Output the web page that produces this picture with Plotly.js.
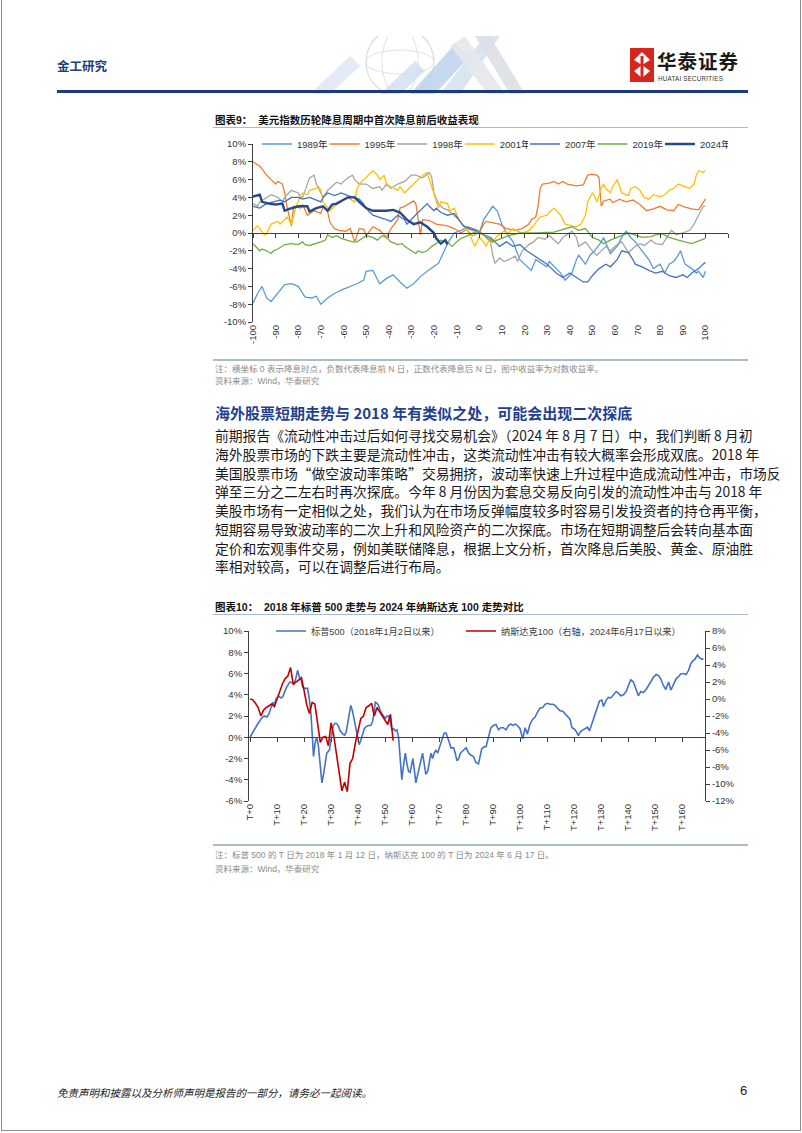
<!DOCTYPE html>
<html><head><meta charset="utf-8">
<script src="https://cdn.plot.ly/plotly-3.0.1.min.js"></script>
<style>
body{margin:0;width:802px;height:1133px;position:relative;background:#fff;overflow:hidden;font-family:"Liberation Sans","Noto Sans CJK SC",sans-serif;}
.a{position:absolute;white-space:nowrap;}
.cn{font-family:"Liberation Sans","Noto Sans CJK SC",sans-serif;}
.ttl{font-size:10.5px;font-weight:bold;color:#111;}
.rule{position:absolute;height:1px;background:#a9bccf;}
.note{font-size:8.5px;color:#8a8a8a;}
.para{position:absolute;left:215px;width:530px;font-size:13.8px;color:#1a1a1a;text-align:justify;text-align-last:justify;white-space:nowrap;line-height:18px;font-family:"Noto Sans CJK SC","Liberation Sans",sans-serif;}
</style></head><body>
<div class="a" style="left:1px;top:-2px;width:798px;height:1131px;border:1px solid #8c8c8c;"></div>

<svg class="a" style="left:290px;top:36px" width="260" height="58">
  <circle cx="110" cy="26" r="34" fill="none" stroke="#d9dee5" stroke-width="1.2"/>
  <ellipse cx="110" cy="26" rx="18" ry="34" fill="none" stroke="#dfe4ea" stroke-width="1"/>
  <ellipse cx="110" cy="26" rx="34" ry="12" fill="none" stroke="#dfe4ea" stroke-width="1"/>
  <polygon points="20,58 60,20 70,30 40,58" fill="#dbe6f2" opacity="0.8"/>
  <polygon points="120,58 165,8 180,20 145,58" fill="#b9d0ea" opacity="0.8"/>
  <polygon points="150,58 195,0 210,0 170,58" fill="#d0dff0" opacity="0.8"/>
  <polygon points="185,0 200,0 235,58 220,58" fill="#dcdfe4" opacity="0.9"/>
  <polygon points="160,10 175,0 215,58 198,58" fill="#e4e7eb" opacity="0.9"/>
  <polygon points="90,58 125,25 135,35 110,58" fill="#c9daee" opacity="0.7"/>
</svg>
<div class="a" style="left:57px;top:56px;font-size:12.5px;font-weight:bold;color:#1f3d7a;font-family:'Noto Sans CJK SC';">金工研究</div>
<svg class="a" style="left:630px;top:48px" width="24" height="34">
  <rect x="0" y="0" width="24" height="34" fill="#d7261e"/>
  <polygon points="12,4 20,12 12,17 4,12" fill="#fff"/>
  <polygon points="12,17 20,23 12,30 4,23" fill="#fff"/>
  <rect x="10.5" y="8" width="3" height="22" fill="#d7261e"/>
</svg>
<div class="a" style="left:657px;top:51px;font-size:19.5px;line-height:20px;font-weight:bold;color:#1a1a1a;letter-spacing:1px;font-family:'Noto Sans CJK SC';">华泰证券</div>
<div class="a" style="left:658px;top:75px;font-size:6.3px;line-height:7px;color:#333;letter-spacing:0.2px;">HUATAI SECURITIES</div>
<div class="a" style="left:57px;top:90px;width:691px;height:3px;background:#1d3b7b;"></div>

<div class="a ttl cn" style="left:215px;top:112px;">图表9：&nbsp;&nbsp;美元指数历轮降息周期中首次降息前后收益表现</div>
<div class="rule" style="left:213px;top:127px;width:535px;"></div>
<div id="c9" class="a" style="left:200px;top:110px;width:545px;height:250px;"></div>
<div class="rule" style="left:213px;top:359px;width:535px;height:1.5px;"></div>
<div class="a note cn" style="left:215px;top:362px;">注：横坐标 0 表示降息时点，负数代表降息前 N 日，正数代表降息后 N 日，图中收益率为对数收益率。</div>
<div class="a note cn" style="left:215px;top:374px;">资料来源：Wind，华泰研究</div>

<div class="a" style="left:215px;top:402px;font-size:15px;font-weight:bold;color:#1f3f8f;font-family:'Noto Sans CJK SC';">海外股票短期走势与 2018 年有类似之处，可能会出现二次探底</div>
<div class="para" style="top:426px;">前期报告《流动性冲击过后如何寻找交易机会》（2024 年 8 月 7 日）中，我们判断 8 月初</div>
<div class="para" style="top:445px;">海外股票市场的下跌主要是流动性冲击，这类流动性冲击有较大概率会形成双底。2018 年</div>
<div class="para" style="top:464px;">美国股票市场“做空波动率策略”交易拥挤，波动率快速上升过程中造成流动性冲击，市场反</div>
<div class="para" style="top:482px;">弹至三分之二左右时再次探底。今年 8 月份因为套息交易反向引发的流动性冲击与 2018 年</div>
<div class="para" style="top:501px;">美股市场有一定相似之处，我们认为在市场反弹幅度较多时容易引发投资者的持仓再平衡，</div>
<div class="para" style="top:520px;">短期容易导致波动率的二次上升和风险资产的二次探底。市场在短期调整后会转向基本面</div>
<div class="para" style="top:539px;">定价和宏观事件交易，例如美联储降息，根据上文分析，首次降息后美股、黄金、原油胜</div>
<div class="para" style="top:557px;text-align-last:left;">率相对较高，可以在调整后进行布局。</div>

<div class="a ttl cn" style="left:215px;top:599px;">图表10：&nbsp;&nbsp;2018 年标普 500 走势与 2024 年纳斯达克 100 走势对比</div>
<div class="rule" style="left:213px;top:614px;width:535px;"></div>
<div id="c10" class="a" style="left:200px;top:600px;width:545px;height:240px;"></div>
<div class="rule" style="left:213px;top:844px;width:535px;height:1.5px;"></div>
<div class="a note cn" style="left:215px;top:848px;">注：标普 500 的 T 日为 2018 年 1 月 12 日，纳斯达克 100 的 T 日为 2024 年 6 月 17 日。</div>
<div class="a note cn" style="left:215px;top:862px;">资料来源：Wind，华泰研究</div>

<div class="a" style="left:57px;top:1085px;font-size:10.5px;font-style:italic;color:#222;font-family:'Noto Sans CJK SC';">免责声明和披露以及分析师声明是报告的一部分，请务必一起阅读。</div>
<div class="a" style="left:740px;top:1083px;font-size:13px;color:#222;">6</div>

<script>
// ---------- Chart 9 data: [day relative to first cut, log return %] ----------
const years9 = ["1989年","1995年","1998年","2001年","2007年","2019年","2024年"];
const r1989 = [[-100,-7.9],[-98,-6.8],[-96,-6.0],[-94,-7.3],[-92,-7.7],[-89,-6.8],[-86,-5.8],[-83,-5.7],[-80,-6.0],[-77,-7.2],[-74,-7.3],[-72,-7.1],[-70,-8.0],[-67,-7.3],[-64,-6.8],[-60,-6.3],[-57,-6.0],[-54,-5.7],[-51,-5.3],[-50,-4.3],[-47,-4.2],[-44,-5.7],[-41,-5.1],[-38,-4.7],[-35,-5.5],[-32,-6.2],[-29,-5.7],[-26,-4.9],[-23,-4.3],[-20,-3.8],[-18,-3.4],[-16,-2.3],[-14,-1.2],[-11,0.0],[-8,0.3],[-5,0.7],[-1,0.3],[0,0.0],[2,1.5],[6,3.0],[8,2.5],[10,1.0],[12,0.0],[15,-1.0],[18,-3.0],[20,-3.5],[23,-4.2],[25,-3.0],[30,-3.8],[31,-3.2],[36,-4.5],[38,-5.3],[41,-4.5],[43,-3.0],[44,-2.5],[47,-3.5],[49,-2.5],[51,-2.0],[54,-1.0],[55,-0.5],[58,-2.3],[61,-1.5],[63,-0.5],[65,0.2],[67,-0.5],[69,-1.0],[72,-2.0],[75,-3.0],[77,-4.0],[80,-3.5],[82,-4.5],[84,-3.5],[86,-3.2],[88,-2.5],[89,-2.0],[91,-3.5],[94,-4.0],[96,-4.5],[97,-4.3],[99,-5.0],[100,-4.3]];
const r1995 = [[-100,8.0],[-97,7.5],[-96,7.2],[-94,6.5],[-92,6.0],[-90,5.5],[-89,5.8],[-87,5.5],[-86,4.5],[-85,3.0],[-83,0.8],[-82,3.0],[-79,2.8],[-78,3.2],[-76,2.0],[-73,2.5],[-70,2.2],[-69,3.0],[-67,2.4],[-66,1.2],[-64,0.5],[-62,0.3],[-59,0.2],[-57,0.5],[-55,-1.0],[-53,0.5],[-51,0.4],[-50,-0.3],[-47,0.7],[-44,0.3],[-41,-0.5],[-39,0.5],[-36,1.5],[-35,2.8],[-33,3.0],[-30,3.5],[-29,3.6],[-28,3.3],[-27,1.5],[-26,-0.2],[-25,1.5],[-22,1.4],[-19,1.0],[-17,0.9],[-14,0.8],[-11,0.5],[-8,0.0],[-5,0.5],[-3,0.3],[0,0.0],[2,1.0],[3,1.3],[9,1.0],[12,0.5],[16,0.3],[19,0.5],[22,1.0],[23,1.5],[25,1.8],[26,3.0],[27,5.0],[28,5.5],[31,5.6],[33,5.8],[35,5.5],[37,5.8],[39,5.5],[43,5.3],[46,5.4],[48,6.5],[50,6.6],[52,6.5],[53,6.2],[54,3.0],[55,3.6],[58,3.8],[59,3.4],[62,3.8],[65,3.5],[68,3.7],[71,3.2],[74,2.5],[77,2.7],[78,2.8],[80,3.0],[83,2.6],[86,2.5],[88,3.2],[91,2.9],[94,2.7],[97,2.6],[100,3.8]];
const r1998 = [[-100,3.3],[-98,3.0],[-97,3.5],[-94,4.0],[-92,4.3],[-89,4.0],[-87,3.5],[-86,4.0],[-84,4.5],[-83,4.8],[-80,4.5],[-79,4.0],[-78,4.0],[-76,5.5],[-75,6.2],[-73,6.5],[-72,5.5],[-70,4.5],[-69,4.0],[-67,4.8],[-64,5.5],[-63,5.7],[-61,5.5],[-60,5.8],[-58,6.2],[-56,6.5],[-55,6.0],[-53,5.5],[-50,5.5],[-47,5.0],[-44,5.2],[-43,4.8],[-41,5.5],[-39,5.0],[-36,5.5],[-33,5.8],[-30,6.5],[-28,6.5],[-25,6.2],[-22,6.8],[-21,6.3],[-20,4.5],[-18,3.3],[-16,2.8],[-14,2.6],[-11,2.0],[-9,1.5],[-7,0.8],[-5,0.3],[-3,-0.3],[0,0.0],[2,-0.2],[4,-0.8],[5,-1.0],[6,-2.5],[7,-3.4],[9,-2.8],[11,-3.2],[13,-3.0],[16,-2.6],[17,-3.2],[19,-2.0],[22,-1.3],[24,-1.0],[26,-0.5],[29,-0.7],[31,-0.3],[33,-0.8],[35,-1.2],[37,-0.5],[39,-0.1],[41,0.2],[43,-0.5],[44,-1.5],[47,-1.0],[50,-2.0],[52,-2.5],[54,-2.0],[56,-1.5],[58,-2.0],[61,-1.3],[63,-1.0],[65,-1.8],[66,-2.2],[69,-1.5],[71,-1.2],[73,-1.4],[76,-0.8],[78,-1.2],[81,-1.3],[83,-0.5],[85,0.3],[87,-0.2],[90,0.0],[93,0.3],[95,1.0],[97,2.0],[99,3.0],[100,3.0]];
const r2001 = [[-100,0.3],[-98,0.8],[-97,0.5],[-95,-0.2],[-94,-0.1],[-93,0.5],[-92,1.0],[-89,1.3],[-88,1.0],[-86,1.5],[-85,1.8],[-83,1.0],[-82,2.0],[-81,3.0],[-80,3.5],[-79,4.2],[-78,4.5],[-76,4.3],[-75,4.8],[-72,5.0],[-71,5.2],[-70,4.8],[-69,3.5],[-67,2.8],[-66,2.5],[-64,3.0],[-61,3.5],[-60,3.8],[-58,4.0],[-57,3.8],[-55,3.5],[-54,5.0],[-53,5.5],[-51,6.0],[-49,6.5],[-47,7.0],[-45,6.5],[-44,6.0],[-42,6.5],[-41,5.5],[-39,5.2],[-36,4.8],[-35,5.2],[-33,4.5],[-31,5.0],[-29,5.5],[-27,6.0],[-25,6.5],[-23,6.8],[-22,6.0],[-20,4.5],[-19,3.5],[-18,2.8],[-17,3.5],[-14,3.3],[-13,2.5],[-11,2.8],[-9,1.5],[-7,0.8],[-5,0.2],[-4,-0.3],[-2,-1.5],[0,-0.5],[2,-1.0],[3,-1.5],[5,-0.5],[6,-1.0],[8,-0.3],[11,0.2],[13,0.0],[15,0.5],[17,0.2],[19,0.0],[22,0.3],[24,0.8],[25,1.2],[27,1.8],[30,2.0],[31,2.3],[33,2.8],[36,2.0],[37,1.5],[38,1.0],[41,0.8],[43,0.7],[45,1.0],[47,2.0],[48,3.5],[50,4.5],[51,4.2],[52,3.5],[54,5.0],[55,5.5],[56,5.0],[58,4.5],[59,5.2],[61,6.0],[62,5.3],[63,4.5],[66,4.2],[67,5.0],[69,5.2],[71,4.8],[73,4.0],[75,3.8],[77,4.3],[80,4.1],[82,4.3],[84,4.8],[86,5.0],[88,5.5],[91,5.2],[93,5.0],[95,5.5],[96,6.5],[97,7.0],[99,6.8],[100,7.0]];
const r2007 = [[-100,3.0],[-97,2.8],[-94,3.3],[-91,3.5],[-88,3.7],[-86,3.5],[-83,4.0],[-80,4.0],[-78,3.8],[-75,4.0],[-72,3.7],[-70,3.5],[-69,4.0],[-67,4.5],[-64,4.2],[-61,4.5],[-58,4.2],[-55,4.0],[-53,3.8],[-51,3.2],[-49,2.5],[-47,2.0],[-44,1.8],[-42,1.6],[-39,1.3],[-36,2.0],[-33,1.5],[-32,1.0],[-29,1.8],[-26,2.5],[-23,3.3],[-22,3.0],[-20,2.5],[-19,2.8],[-17,2.3],[-14,2.0],[-11,2.2],[-9,1.5],[-7,0.8],[-4,0.5],[-1,0.3],[0,0.0],[5,-0.5],[9,-1.5],[12,-1.0],[15,-1.5],[18,-1.3],[21,-2.0],[24,-2.5],[27,-3.0],[30,-3.5],[34,-4.5],[37,-5.0],[40,-4.5],[43,-5.0],[46,-5.5],[48,-5.5],[50,-4.8],[53,-4.0],[56,-3.5],[58,-3.8],[61,-3.0],[63,-2.0],[66,-2.2],[68,-3.0],[69,-3.5],[72,-3.8],[75,-4.2],[78,-4.5],[81,-4.3],[84,-4.8],[87,-5.0],[90,-4.7],[92,-5.0],[94,-4.5],[97,-4.0],[99,-3.5],[100,-3.3]];
const r2019 = [[-100,-1.2],[-99,-1.5],[-97,-2.0],[-96,-1.8],[-94,-2.0],[-92,-2.3],[-91,-2.0],[-89,-1.8],[-86,-1.3],[-83,-1.2],[-80,-1.3],[-78,-1.0],[-77,-1.3],[-75,-1.4],[-72,-1.2],[-70,-1.0],[-68,-0.8],[-67,-0.2],[-65,-0.5],[-63,-0.3],[-61,-0.6],[-58,-0.8],[-56,-1.0],[-54,-1.0],[-52,-0.6],[-50,-0.3],[-47,-0.5],[-45,-0.8],[-43,-0.3],[-41,-0.5],[-39,-1.0],[-36,-1.3],[-34,-1.2],[-33,-1.5],[-30,-2.0],[-28,-2.3],[-27,-2.0],[-25,-2.2],[-23,-2.0],[-21,-1.5],[-19,-1.2],[-17,-0.8],[-14,-1.0],[-12,-1.5],[-10,-1.0],[-8,-0.6],[-5,-0.3],[-3,0.0],[0,0.2],[5,-0.8],[6,-1.0],[11,-0.5],[13,-0.3],[18,0.0],[25,0.0],[33,0.1],[38,0.5],[41,0.7],[44,0.3],[47,0.5],[50,-0.5],[53,-0.8],[55,-1.2],[58,-0.8],[61,-0.5],[63,-0.3],[66,0.0],[69,-0.2],[72,-0.5],[76,-0.4],[78,-0.2],[81,-0.1],[84,-0.5],[88,-0.8],[91,-1.0],[94,-1.2],[96,-1.0],[98,-0.8],[100,-0.6]];
const r2024 = [[-100,4.1],[-97,4.3],[-96,3.5],[-93,3.3],[-90,3.2],[-87,3.3],[-86,2.5],[-84,2.7],[-80,3.0],[-76,3.0],[-75,2.4],[-72,2.8],[-69,3.0],[-67,2.5],[-65,3.2],[-63,3.3],[-61,3.6],[-58,4.0],[-55,4.0],[-54,3.8],[-53,3.5],[-50,2.8],[-47,2.5],[-44,2.5],[-41,2.5],[-38,2.6],[-35,2.3],[-32,1.5],[-29,1.0],[-26,1.2],[-23,0.7],[-20,0.0],[-19,-0.6],[-17,-1.2],[-15,-0.8],[-14,-1.3]];
const xTicks9 = [-100,-90,-80,-70,-60,-50,-40,-30,-20,-10,0,10,20,30,40,50,60,70,80,90,100];
const xMarks9 = [-100,-90,-80,-70,-60,-50,-40,-30,-20,-10,0,10,20,30,40,50,60,70,80,90,100,110];
const yTicks9 = [-10,-8,-6,-4,-2,0,2,4,6,8,10];

// ---------- Chart 10 data ----------
const names10 = ["标普500（2018年1月2日以来）","纳斯达克100（右轴，2024年6月17日以来）"];
const sp500 = [[0,0],[1,0.5],[1.9,0.8],[2.7,1.2],[3.5,1.5],[4.3,1.8],[5.2,2.0],[6.2,1.9],[7,2.2],[7.8,2.8],[8.4,3.3],[8.9,3.0],[9.6,3.6],[10.5,3.9],[11.4,3.7],[12.1,3.8],[12.7,4.2],[13.3,4.6],[14.2,5.0],[14.8,5.2],[15.8,5.1],[16.4,5.1],[16.9,5.5],[17.6,6.3],[18.3,5.6],[18.8,5.5],[19.5,4.7],[20.4,4.6],[21.3,4.6],[22,3.5],[22.6,2.0],[23.1,-0.5],[23.5,-1.8],[24.1,-0.5],[24.7,0.0],[25.3,-0.8],[26,-2.5],[26.6,-4.3],[27.2,-3.5],[27.8,-2.5],[28.4,-1.5],[29.4,-1.2],[30,0.0],[30.7,1.0],[31.3,1.3],[32.1,1.3],[32.8,1.0],[33.4,0.6],[34.4,0.3],[35,0.2],[35.6,0.5],[36.2,1.3],[36.8,2.3],[37.3,3.0],[37.9,2.5],[38.6,1.5],[39.2,0.8],[39.8,-0.2],[40.4,-0.7],[41,-0.3],[41.7,0.2],[42.3,0.8],[43,1.0],[43.9,1.1],[44.7,1.1],[45.4,1.5],[45.7,2.0],[46.4,3.3],[47,3.2],[47.6,3.0],[48.2,2.5],[48.8,2.2],[49.4,2.0],[50.1,1.8],[50.7,2.0],[51.3,2.0],[51.9,1.5],[52.5,0.7],[53.2,0.8],[53.8,0.6],[54.4,0.7],[55,0.0],[55.6,-2.0],[56.2,-4.0],[56.9,-2.5],[57.5,-1.5],[58.1,-2.5],[58.7,-3.2],[59.3,-3.3],[59.9,-2.5],[60.3,-2.0],[60.8,-3.0],[61.4,-4.3],[62.1,-3.5],[62.7,-2.8],[63.3,-2.2],[63.9,-1.5],[64.5,-2.5],[65.1,-3.5],[65.8,-3.2],[66.4,-2.5],[67,-1.5],[67.6,-2.0],[68.2,-1.5],[68.9,-1.2],[69.5,-1.5],[70.1,-1.0],[70.7,-0.5],[71.3,0.0],[71.9,0.4],[72.6,0.4],[73.2,0.0],[73.8,-0.5],[74.4,-1.0],[75.4,-1.0],[76,-1.5],[76.6,-2.2],[77.3,-2.0],[77.9,-1.5],[79.1,-1.2],[80,-1.0],[81,-1.5],[81.8,-1.7],[82.7,-1.8],[83.7,-2.4],[84.6,-2.5],[85.2,-1.6],[85.8,-1.1],[86.7,-0.9],[87.4,-0.9],[88.3,0.0],[89.2,0.9],[90.1,1.1],[91.1,1.2],[92,0.7],[92.9,0.9],[93.8,0.9],[94.8,0.7],[95.7,1.1],[96.6,1.25],[97.3,1.1],[98.2,1.25],[99,1.1],[100,0.8],[101,-0.15],[101.9,0.9],[102.7,0.3],[103.7,1.25],[104.7,1.7],[105.6,1.9],[106.4,2.35],[107.4,2.75],[108.4,2.8],[109.3,3.1],[110.1,3.2],[111.1,3.1],[112.1,3.1],[113,3.0],[113.8,2.75],[114.8,2.5],[115.8,2.45],[116.7,2.2],[117.5,1.9],[118.5,1.7],[119.2,0.9],[120,0.8],[120.8,0.55],[121.6,0.15],[122.2,0.45],[123.2,0.7],[124.1,0.8],[125,0.95],[125.7,0.6],[126.6,1.25],[127.4,1.9],[128.4,2.75],[129.4,3.4],[130.3,3.5],[130.9,2.9],[131.9,3.5],[132.7,3.75],[133.6,3.7],[134.6,4.0],[135.6,4.3],[136.4,4.15],[137.3,3.9],[138.3,4.0],[139.3,4.3],[140.1,4.85],[141,5.4],[142,5.2],[143,4.4],[143.8,3.9],[144.7,4.3],[145.7,4.2],[146.7,4.5],[147.5,4.85],[148.4,5.3],[149.4,5.65],[150.4,5.9],[151.3,5.8],[152.1,5.5],[153.1,4.85],[154,4.5],[155,5.2],[155.9,4.45],[156.8,5.0],[157.8,5.5],[158.7,5.7],[159.5,5.95],[160.5,6.0],[161.5,5.9],[162.4,6.3],[163.2,6.9],[164,7.2],[164.8,7.35],[165.7,7.75],[166.4,7.5],[167.3,7.35],[167.9,7.35]];
const ndx100 = [0.0,-0.1,-0.5,-1.0,-2.0,-1.3,-1.0,-0.8,-0.6,-0.9,0.0,0.8,1.8,2.4,2.7,3.7,1.7,2.0,2.3,2.5,1.0,-0.7,-1.7,-0.4,-0.6,-3.2,-5.1,-4.5,-4.4,-5.5,-2.8,-4.3,-6.4,-9.0,-10.8,-9.8,-10.9,-7.6,-7.0,-5.2,-3.9,-2.3,-2.0,-1.0,-0.8,-0.5,-2.0,-1.0,-1.5,-2.0,-2.6,-3.0,-1.8,-4.9];
const xTicks10 = [0,10,20,30,40,50,60,70,80,90,100,110,120,130,140,150,160];
const yTicksL = [-6,-4,-2,0,2,4,6,8,10];
const yTicksR = [-12,-10,-8,-6,-4,-2,0,2,4,6,8];

const FONT = "Liberation Sans, Noto Sans CJK SC, sans-serif";
const AX = '#404040';
const pct = v => v + '%';
const legBase = (x, size, col, ew) => ({
  orientation: 'h', x: x, xanchor: 'left', y: 1.0, yanchor: 'middle',
  font: {family: FONT, size: size, color: col}, bgcolor: 'rgba(0,0,0,0)', borderwidth: 0,
  entrywidth: ew, entrywidthmode: 'pixels', traceorder: 'normal', itemclick: false
});

// ----- chart 9 -----
const series9 = [r1989, r1995, r1998, r2001, r2007, r2019, r2024];
const colors9 = ['#5B9BD5','#ED7D31','#A5A5A5','#FFC000','#4472C4','#70AD47','#264A86'];
const widths9 = [1.3,1.3,1.3,1.3,1.3,1.3,2.4];
const traces9 = series9.map((s, i) => ({
  type: 'scatter', mode: 'lines', name: years9[i],
  x: s.map(p => p[0]), y: s.map(p => p[1]),
  line: {color: colors9[i], width: widths9[i]},
  xaxis: i === 6 ? 'x2' : 'x', yaxis: 'y', hoverinfo: 'skip',
  legend: i < 4 ? 'legend' : 'legend2'
}));
const layout9 = {
  width: 545, height: 250,
  margin: {l: 53, r: 17, t: 34, b: 38, pad: 0},
  paper_bgcolor: 'rgba(0,0,0,0)', plot_bgcolor: 'rgba(0,0,0,0)',
  font: {family: FONT, size: 9.5, color: '#333'},
  showlegend: true,
  legend: legBase(0.0084, 9.5, '#333', 22.6),
  legend2: legBase(0.5726, 9.5, '#333', 22.5),
  xaxis: {range: [-100, 110], tickmode: 'array', tickvals: xTicks9, ticktext: xTicks9.map(String),
          tickangle: -90, showline: false, ticks: '', showgrid: false, zeroline: false,
          tickfont: {family: FONT, size: 9.5, color: '#333'}},
  xaxis2: {overlaying: 'x', anchor: 'free', position: 0.5, range: [-100, 110],
           tickmode: 'array', tickvals: xMarks9, showticklabels: false,
           showline: true, linecolor: AX, linewidth: 1, ticks: 'outside', ticklen: 4, tickcolor: AX,
           showgrid: false, zeroline: false},
  yaxis: {range: [-10, 10], tickmode: 'array', tickvals: yTicks9, ticktext: yTicks9.map(pct),
          showline: true, linecolor: AX, linewidth: 1, ticks: 'outside', ticklen: 4, tickcolor: AX,
          showgrid: false, zeroline: false, tickfont: {family: FONT, size: 9.5, color: '#333'}}
};
Plotly.newPlot('c9', traces9, layout9, {displayModeBar: false, staticPlot: true});

// ----- chart 10 -----
const traces10 = [
  {type: 'scatter', mode: 'lines', name: names10[0],
   x: sp500.map(p => p[0]), y: sp500.map(p => p[1]),
   line: {color: '#4472C4', width: 1.6}, xaxis: 'x', yaxis: 'y', hoverinfo: 'skip', legend: 'legend'},
  {type: 'scatter', mode: 'lines', name: names10[1],
   x: ndx100.map((v, i) => i), y: ndx100,
   line: {color: '#C00000', width: 1.6}, xaxis: 'x2', yaxis: 'y2', hoverinfo: 'skip', legend: 'legend2'}
];
const layout10 = {
  width: 545, height: 240,
  margin: {l: 49, r: 40, t: 31, b: 39, pad: 0},
  paper_bgcolor: 'rgba(0,0,0,0)', plot_bgcolor: 'rgba(0,0,0,0)',
  font: {family: FONT, size: 9.5, color: '#333'},
  showlegend: true,
  legend: legBase(0.0482, 9.2, '#404040', 0),
  legend2: legBase(0.4649, 9.2, '#404040', 0),
  xaxis: {range: [-0.4, 168.5], tickmode: 'array', tickvals: xTicks10, ticktext: xTicks10.map(v => 'T+' + v),
          tickangle: -90, showline: false, ticks: '', showgrid: false, zeroline: false,
          tickfont: {family: FONT, size: 9.5, color: '#333'}},
  xaxis2: {overlaying: 'x', anchor: 'free', position: 0.375, range: [-0.4, 168.5],
           tickmode: 'array', tickvals: xTicks10, showticklabels: false,
           showline: true, linecolor: AX, linewidth: 1, ticks: 'outside', ticklen: 4, tickcolor: AX,
           showgrid: false, zeroline: false},
  yaxis: {range: [-6, 10], tickmode: 'array', tickvals: yTicksL, ticktext: yTicksL.map(pct),
          showline: true, linecolor: AX, linewidth: 1, ticks: 'outside', ticklen: 4, tickcolor: AX,
          showgrid: false, zeroline: false, tickfont: {family: FONT, size: 9.5, color: '#333'}},
  yaxis2: {overlaying: 'y', side: 'right', anchor: 'x', range: [-12, 8], tickmode: 'array',
           tickvals: yTicksR, ticktext: yTicksR.map(pct),
           showline: true, linecolor: AX, linewidth: 1, ticks: 'outside', ticklen: 4, tickcolor: AX,
           showgrid: false, zeroline: false, tickfont: {family: FONT, size: 9.5, color: '#333'}}
};
Plotly.newPlot('c10', traces10, layout10, {displayModeBar: false, staticPlot: true});
</script>
</body></html>
